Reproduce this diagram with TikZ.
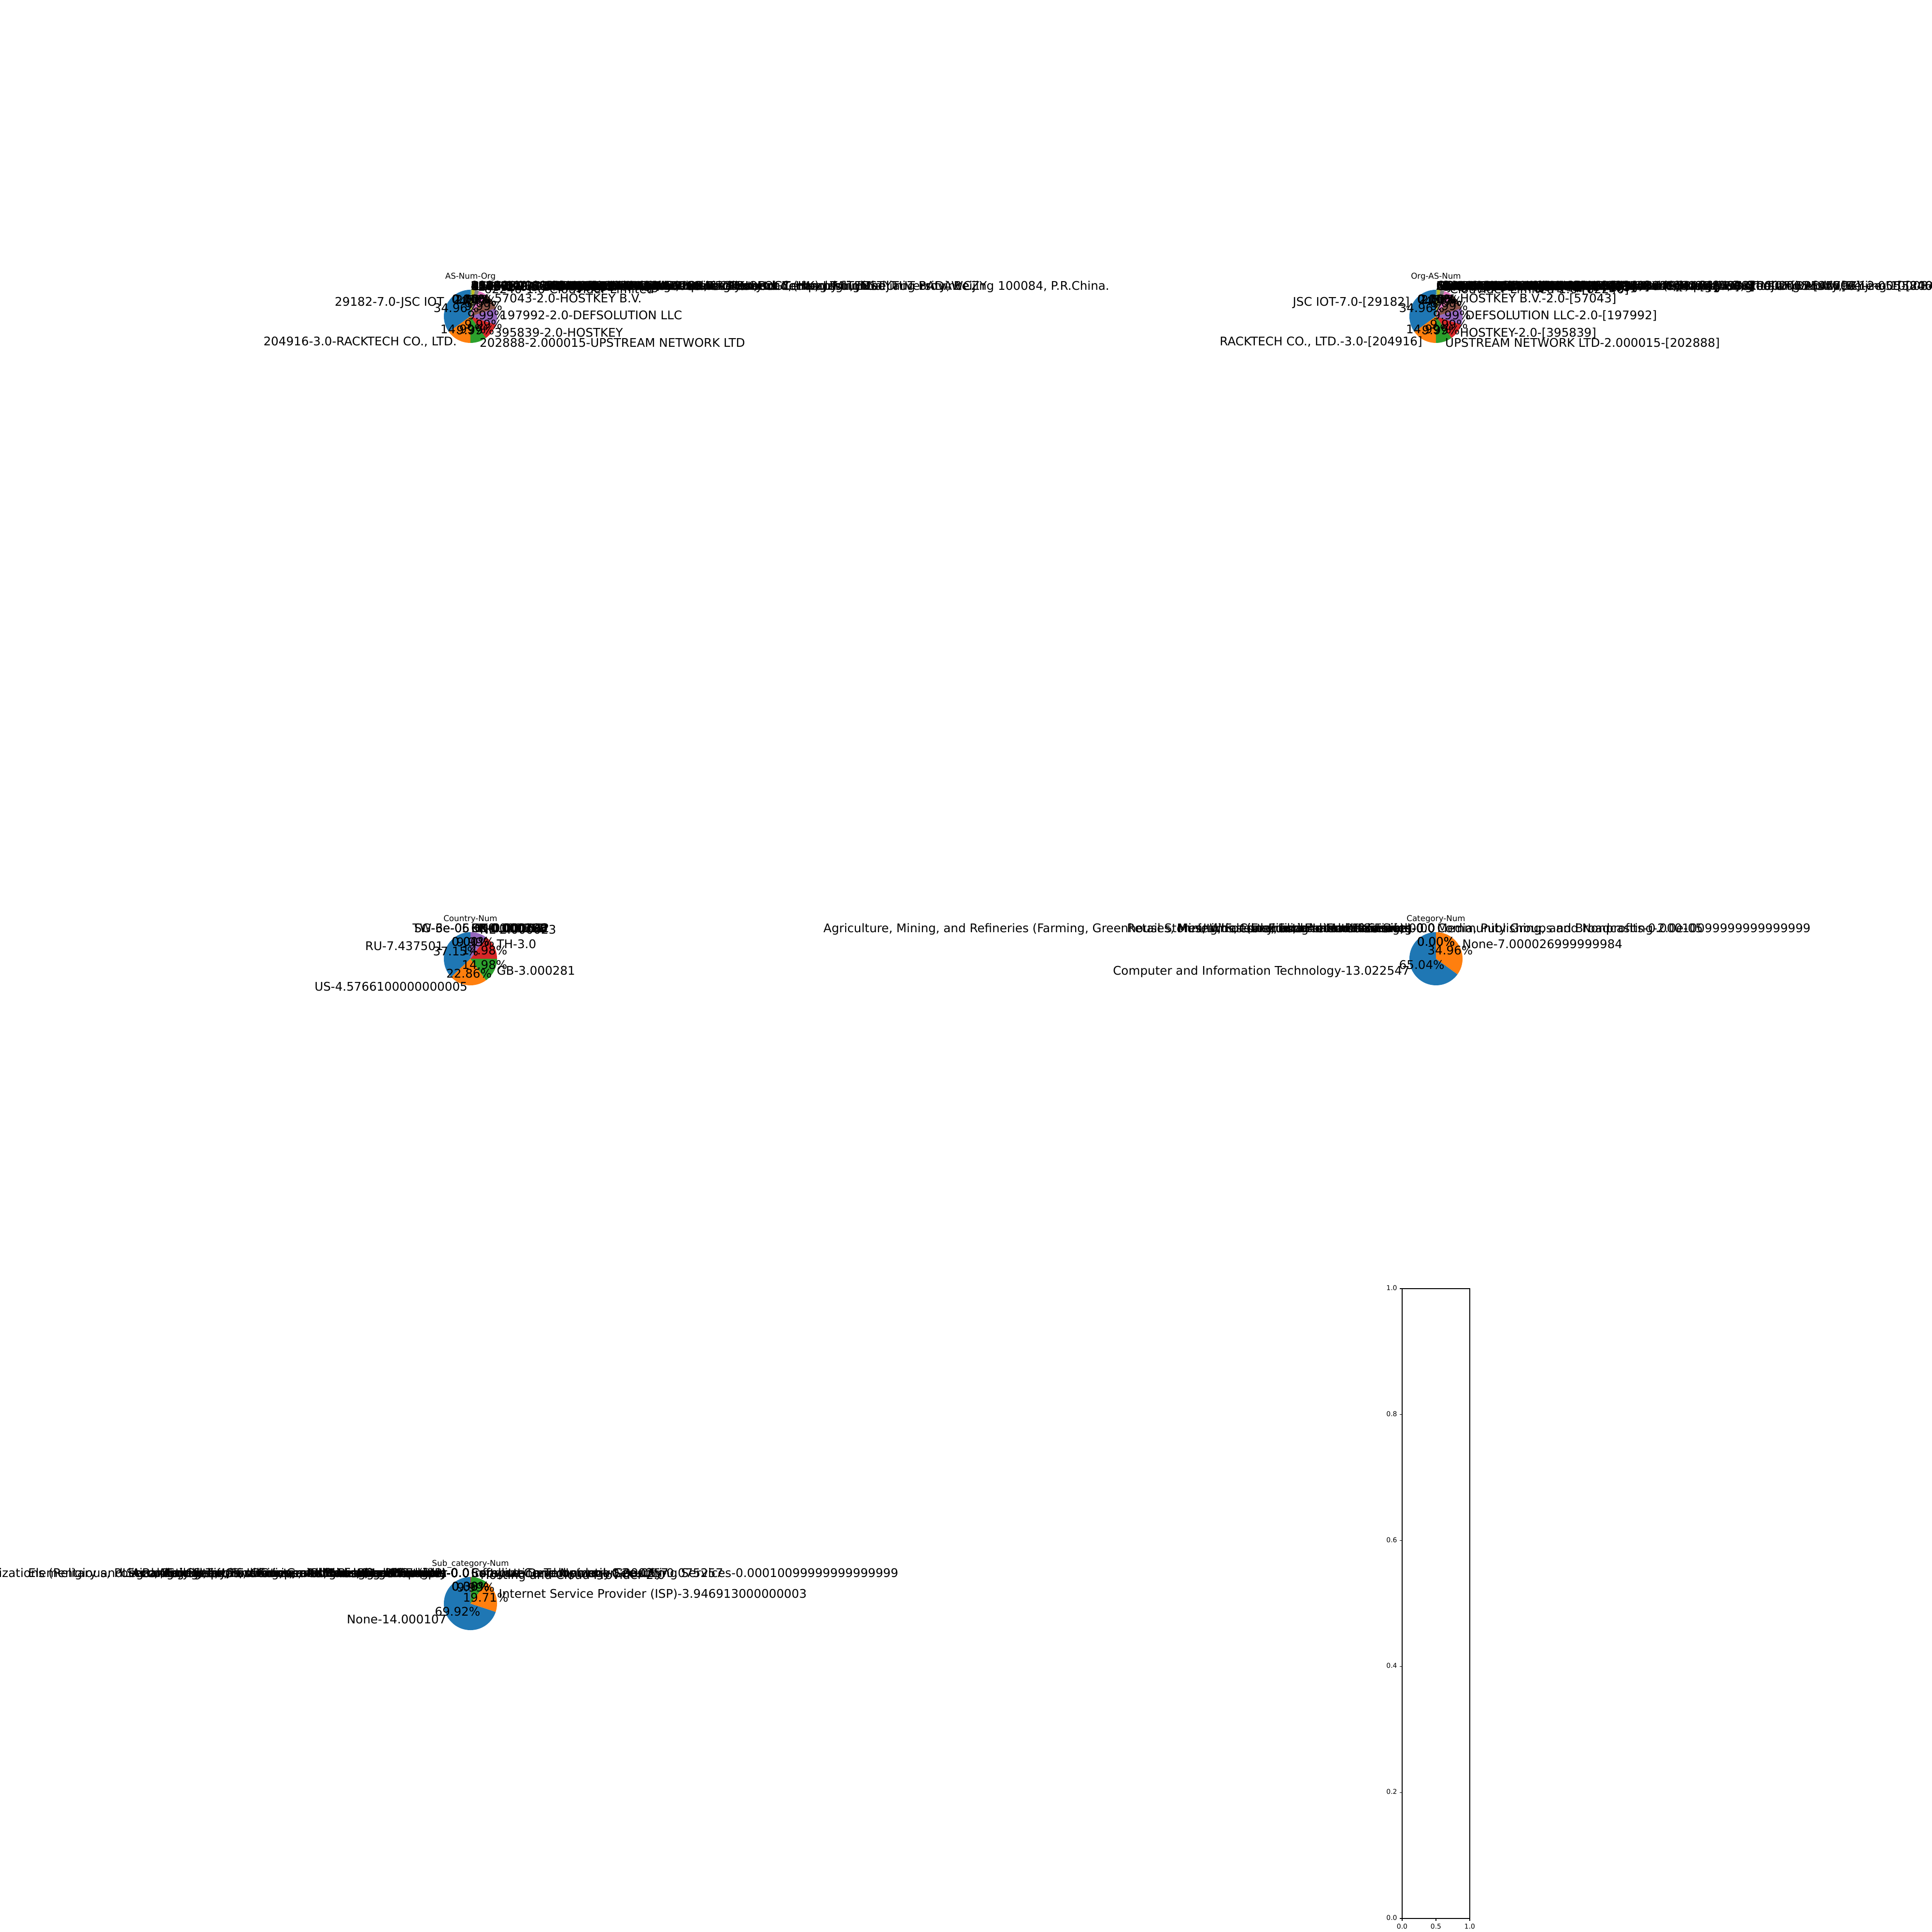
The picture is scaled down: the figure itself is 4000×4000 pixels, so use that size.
\documentclass[tikz,border=0pt]{standalone}
\usepackage{fontspec}
\setmainfont{DejaVu Sans}
\definecolor{tabblue}{HTML}{1F77B4}
\definecolor{taborange}{HTML}{FF7F0E}
\definecolor{tabgreen}{HTML}{2CA02C}
\definecolor{tabred}{HTML}{D62728}
\definecolor{tabpurple}{HTML}{9467BD}
\definecolor{tabbrown}{HTML}{8C564B}
\definecolor{tabpink}{HTML}{E377C2}
\definecolor{tabgray}{HTML}{7F7F7F}
\definecolor{tabolive}{HTML}{BCBD22}
\definecolor{tabcyan}{HTML}{17BECF}
\newcommand\pieslice[4]{\fill[#4] (#1) -- ++(#2:0.55cm) arc[start angle=#2,end angle=#3,radius=0.55cm] -- cycle;}
\begin{document}
\begin{tikzpicture}[x=0.01cm,y=0.01cm,
  lab/.style={inner sep=0pt,text height=5.32pt,text depth=1.68pt,font=\fontsize{7}{8.4}\selectfont},
  ttl/.style={inner sep=0pt,anchor=base,font=\fontsize{4.75}{5.7}\selectfont},
  ticklab/.style={inner sep=0pt,text height=3.0pt,text depth=0.95pt,font=\fontsize{3.95}{4.74}\selectfont},
  axline/.style={line width=0.316pt,line cap=rect}]
\useasboundingbox (0,0) rectangle (4000,4000);
\fill[white] (0,0) rectangle (4000,4000);

% ================= Pie A : AS-Num-Org =================
\coordinate (cA) at (974,3345);
\pieslice{cA}{90}{215.86}{tabblue}
\pieslice{cA}{215.86}{269.82}{taborange}
\pieslice{cA}{269.82}{305.78}{tabgreen}
\pieslice{cA}{305.78}{341.74}{tabred}
\pieslice{cA}{341.74}{377.70}{tabpurple}
\pieslice{cA}{377.70}{413.66}{tabbrown}
\pieslice{cA}{413.66}{431.64}{tabpink}
\pieslice{cA}{431.64}{440.63}{tabgray}
\pieslice{cA}{440.63}{447.83}{tabolive}
\pieslice{cA}{447.83}{448.5}{tabcyan}
\pieslice{cA}{448.5}{449.0}{tabblue}
\pieslice{cA}{449.0}{449.5}{taborange}
\pieslice{cA}{449.5}{450}{tabgreen}
\node[ttl] (tA) at (974,3422.3) {AS-Num-Org};
\node[lab,anchor=east] (a1) at (920.1,3372.5) {29182-7.0-JSC IOT};
\node[lab,anchor=east] (a2) at (946.4,3291.2) {204916-3.0-RACKTECH CO., LTD.};
\node[lab,anchor=west] (a3) at (992.5,3287.4) {202888-2.000015-UPSTREAM NETWORK LTD};
\node[lab,anchor=west] (a4) at (1022.8,3309.2) {395839-2.0-HOSTKEY};
\node[lab,anchor=west] (a5) at (1034.5,3344.7) {197992-2.0-DEFSOLUTION LLC};
\node[lab,anchor=west] (a6) at (1023.1,3380.3) {57043-2.0-HOSTKEY B.V.};
\node[lab,anchor=west] (a7) at (1001.8,3398.7) {62240-1.0-Clouvider Limited};
\node[lab,anchor=west] (a8) at (988.5,3403.7) {14061-0.5-DIGITALOCEAN-ASN};
\node[lab,anchor=west] (a9) at (980.1,3405.2) {16276-0.404-OVH SAS};
\node[lab,anchor=west] (a10) at (975.9,3405.5) {4134-0.038-Chinanet};
\node[lab,anchor=west] (a11) at (975.3,3405.5) {24940-0.02-Hetzner Online GmbH};
\node[lab,anchor=west] (a12) at (974.8,3405.5) {12876-0.01-SCALEWAY S.A.S.};
\node[lab,anchor=west] (a13) at (974.6,3405.5) {9009-0.01-M247 Europe SRL};
\node[lab,anchor=west] (a14) at (974.5,3405.5) {45090-0.005-Shenzhen Tencent Computer Systems Company Limited};
\node[lab,anchor=west] (a15) at (974.4,3405.5) {37963-0.003-Hangzhou Alibaba Advertising Co.,Ltd.};
\node[lab,anchor=west] (a16) at (974.3,3405.5) {8075-0.001-MICROSOFT-CORP-MSN-AS-BLOCK};
\node[lab,anchor=west] (a17) at (974.25,3405.5) {63949-0.002-Akamai Technologies, Inc.};
\node[lab,anchor=west] (a18) at (974.2,3405.5) {15169-0.0001-GOOGLE};
\node[lab,anchor=west] (a19) at (974.18,3405.5) {36352-0.0004-AS-COLOCROSSING};
\node[lab,anchor=west] (a20) at (974.15,3405.5) {209588-0.0001-Flyservers S.A.};
\node[lab,anchor=west] (a21) at (974.13,3405.5) {135377-0.0002-UCLOUD INFORMATION TECHNOLOGY (HK) LIMITED};
\node[lab,anchor=west] (a22) at (974.1,3405.5) {4808-5e-05-China Unicom Beijing Province Network};
\node[lab,anchor=west] (a23) at (974.08,3405.5) {4837-0.0001-CHINA UNICOM China169 Backbone};
\node[lab,anchor=west] (a24) at (974.06,3405.5) {58461-1e-05-CT-HangZhou-IDC No.288,Fu-chun Road, Hangzhou, Zhejiang Province};
\node[lab,anchor=west] (a25) at (974.05,3405.5) {200000-2e-05-Siec Badawcza Lukasiewicz - Instytut Technologii, INSTYTUT BADAWCZY};
\node[lab,anchor=west] (a26) at (974.02,3405.5) {4538-1e-05-China Education and Research Network Center, Tsinghua University, Beijing 100084, P.R.China.};
\node[lab] (ap1) at (944.6,3360) {34.96\%};
\node[lab] (ap2) at (958.9,3315.6) {14.99\%};
\node[lab] (ap3) at (984.1,3313.6) {9.99\%};
\node[lab] (ap4) at (1000.6,3325.5) {9.99\%};
\node[lab] (ap5) at (1007,3344.8) {9.99\%};
\node[lab] (ap6) at (1000.8,3364.2) {9.99\%};
\node[lab] (ap7) at (989.2,3374.3) {4.99\%};
\node[lab] (ap8) at (981.9,3377) {2.50\%};
\node[lab] (ap9) at (977.3,3377.8) {2.00\%};
\node[lab] (ap10) at (975.2,3378) {0.19\%};
\node[lab] (ap11) at (974.6,3378) {0.10\%};
\node[lab] (ap12) at (974.3,3378) {0.05\%};
\node[lab] (ap13) at (974.1,3378) {0.00\%};

% ================= Pie B : Org-AS-Num =================
\coordinate (cB) at (2973,3345);
\pieslice{cB}{90}{215.86}{tabblue}
\pieslice{cB}{215.86}{269.82}{taborange}
\pieslice{cB}{269.82}{305.78}{tabgreen}
\pieslice{cB}{305.78}{341.74}{tabred}
\pieslice{cB}{341.74}{377.70}{tabpurple}
\pieslice{cB}{377.70}{413.66}{tabbrown}
\pieslice{cB}{413.66}{431.64}{tabpink}
\pieslice{cB}{431.64}{440.63}{tabgray}
\pieslice{cB}{440.63}{447.83}{tabolive}
\pieslice{cB}{447.83}{448.5}{tabcyan}
\pieslice{cB}{448.5}{449.0}{tabblue}
\pieslice{cB}{449.0}{449.5}{taborange}
\pieslice{cB}{449.5}{450}{tabgreen}
\node[ttl] (tB) at (2973,3422.3) {Org-AS-Num};
\node[lab,anchor=east] (b1) at (2919.1,3372.5) {JSC IOT-7.0-[29182]};
\node[lab,anchor=east] (b2) at (2945.4,3291.2) {RACKTECH CO., LTD.-3.0-[204916]};
\node[lab,anchor=west] (b3) at (2991.5,3287.4) {UPSTREAM NETWORK LTD-2.000015-[202888]};
\node[lab,anchor=west] (b4) at (3021.8,3309.2) {HOSTKEY-2.0-[395839]};
\node[lab,anchor=west] (b5) at (3033.5,3344.7) {DEFSOLUTION LLC-2.0-[197992]};
\node[lab,anchor=west] (b6) at (3022.1,3380.3) {HOSTKEY B.V.-2.0-[57043]};
\node[lab,anchor=west] (b7) at (3000.8,3398.7) {Clouvider Limited-1.0-[62240]};
\node[lab,anchor=west] (b8) at (2987.5,3403.7) {DIGITALOCEAN-ASN-0.5-[14061]};
\node[lab,anchor=west] (b9) at (2979.1,3405.2) {OVH SAS-0.404-[16276]};
\node[lab,anchor=west] (b10) at (2974.9,3405.5) {Chinanet-0.038-[4134]};
\node[lab,anchor=west] (b11) at (2974.3,3405.5) {Hetzner Online GmbH-0.02-[24940]};
\node[lab,anchor=west] (b12) at (2973.8,3405.5) {SCALEWAY S.A.S.-0.01-[12876]};
\node[lab,anchor=west] (b13) at (2973.6,3405.5) {M247 Europe SRL-0.01-[9009]};
\node[lab,anchor=west] (b14) at (2973.5,3405.5) {Shenzhen Tencent Computer Systems Company Limited-0.005-[45090]};
\node[lab,anchor=west] (b15) at (2973.4,3405.5) {Hangzhou Alibaba Advertising Co.,Ltd.-0.003-[37963]};
\node[lab,anchor=west] (b16) at (2973.3,3405.5) {MICROSOFT-CORP-MSN-AS-BLOCK-0.001-[8075]};
\node[lab,anchor=west] (b17) at (2973.25,3405.5) {Akamai Technologies, Inc.-0.002-[63949]};
\node[lab,anchor=west] (b18) at (2973.2,3405.5) {GOOGLE-0.0001-[15169]};
\node[lab,anchor=west] (b19) at (2973.18,3405.5) {AS-COLOCROSSING-0.0004-[36352]};
\node[lab,anchor=west] (b20) at (2973.15,3405.5) {Flyservers S.A.-0.0001-[209588]};
\node[lab,anchor=west] (b21) at (2973.13,3405.5) {UCLOUD INFORMATION TECHNOLOGY (HK) LIMITED-0.0002-[135377]};
\node[lab,anchor=west] (b22) at (2973.1,3405.5) {China Unicom Beijing Province Network-5e-05-[4808]};
\node[lab,anchor=west] (b23) at (2973.08,3405.5) {CHINA UNICOM China169 Backbone-0.0001-[4837]};
\node[lab,anchor=west] (b24) at (2973.06,3405.5) {CT-HangZhou-IDC No.288,Fu-chun Road, Hangzhou, Zhejiang Province-1e-05-[58461]};
\node[lab,anchor=west] (b25) at (2973.05,3405.5) {Siec Badawcza Lukasiewicz - Instytut Technologii, INSTYTUT BADAWCZY-2e-05-[200000]};
\node[lab,anchor=west] (b26) at (2973.02,3405.5) {China Education and Research Network Center, Tsinghua University, Beijing 100084, P.R.China.-1e-05-[4538]};
\node[lab] (bp1) at (2943.6,3360) {34.96\%};
\node[lab] (bp2) at (2957.9,3315.6) {14.99\%};
\node[lab] (bp3) at (2983.1,3313.6) {9.99\%};
\node[lab] (bp4) at (2999.6,3325.5) {9.99\%};
\node[lab] (bp5) at (3006,3344.8) {9.99\%};
\node[lab] (bp6) at (2999.8,3364.2) {9.99\%};
\node[lab] (bp7) at (2988.2,3374.3) {4.99\%};
\node[lab] (bp8) at (2980.9,3377) {2.50\%};
\node[lab] (bp9) at (2976.3,3377.8) {2.00\%};
\node[lab] (bp10) at (2974.2,3378) {0.19\%};
\node[lab] (bp11) at (2973.6,3378) {0.10\%};
\node[lab] (bp12) at (2973.3,3378) {0.05\%};
\node[lab] (bp13) at (2973.1,3378) {0.00\%};

% ================= Pie C : Country-Num =================
\coordinate (cC) at (974,2015);
\pieslice{cC}{90}{223.74}{tabblue}
\pieslice{cC}{223.74}{306.04}{taborange}
\pieslice{cC}{306.04}{359.97}{tabgreen}
\pieslice{cC}{359.97}{413.90}{tabred}
\pieslice{cC}{413.90}{449.86}{tabpurple}
\pieslice{cC}{449.86}{450}{tabbrown}
\node[ttl] (tC) at (974,2092.3) {Country-Num};
\node[lab,anchor=east] (c1) at (918.4,2038.8) {RU-7.437501};
\node[lab,anchor=east] (c2) at (968.6,1954.7) {US-4.5766100000000005};
\node[lab,anchor=west] (c3) at (1027.9,1987.5) {GB-3.000281};
\node[lab,anchor=west] (c4) at (1027.9,2042.4) {TH-3.0};
\node[lab,anchor=west] (c5) at (992.8,2072.5) {NL-2.000023};
\node[lab,anchor=east] (c6) at (973,2075.5) {TW-6e-05};
\node[lab,anchor=east] (c7) at (973,2075.5) {SG-3e-06};
\node[lab,anchor=west] (c8) at (975,2075.5) {KR-0.000123};
\node[lab,anchor=west] (c9) at (975,2075.5) {DE-0.000532};
\node[lab,anchor=west] (c10) at (975,2075.5) {CN-0.001062};
\node[lab,anchor=west] (c11) at (975,2075.5) {HK-0.000206};
\node[lab,anchor=west] (c12) at (975,2075.5) {FR-0.000358};
\node[lab,anchor=west] (c13) at (975,2075.5) {IN-0.000115};
\node[lab] (cp1) at (943.6,2028) {37.15\%};
\node[lab] (cp2) at (971.1,1982.1) {22.86\%};
\node[lab] (cp3) at (1003.4,2000) {14.98\%};
\node[lab] (cp4) at (1003.4,2030) {14.98\%};
\node[lab] (cp5) at (984.3,2046.4) {9.99\%};
\node[lab] (cp6) at (974,2048) {0.00\%};
\node[lab] (cp7) at (974.5,2048) {0.01\%};

% ================= Pie D : Category-Num =================
\coordinate (cD) at (2973,2015);
\pieslice{cD}{90}{324.14}{tabblue}
\pieslice{cD}{324.14}{450}{taborange}
\node[ttl] (tD) at (2973,2092.3) {Category-Num};
\node[lab,anchor=east] (d1) at (2919.1,1987.5) {Computer and Information Technology-13.022547};
\node[lab,anchor=west] (d2) at (3026.9,2042.5) {None-7.000026999999984};
\node[lab,anchor=east] (d3) at (2972,2075.5) {Agriculture, Mining, and Refineries (Farming, Greenhouses, Mining, Forestry, and Animal Farming)-0.00};
\node[lab,anchor=east] (d4) at (2972,2075.5) {Retail Stores, Wholesale, and E-commerce Sites-0.0};
\node[lab,anchor=east] (d5) at (2972,2075.5) {Construction and Real Estate-0.0};
\node[lab,anchor=east] (d6) at (2972,2075.5) {Manufacturing-0.0};
\node[lab,anchor=east] (d7) at (2972,2075.5) {Museums, Libraries, and Entertainment-0.0};
\node[lab,anchor=east] (d8) at (2972,2075.5) {Utilities (Excluding Internet Service)-0.0};
\node[lab,anchor=east] (d9) at (2972,2075.5) {Finance and Insurance-0.0};
\node[lab,anchor=east] (d10) at (2972,2075.5) {Education and Research-0.0};
\node[lab,anchor=east] (d11) at (2972,2075.5) {Service-0.0};
\node[lab,anchor=west] (d12) at (2975,2075.5) {Media, Publishing, and Broadcasting-2.0e-05};
\node[lab,anchor=west] (d13) at (2975,2075.5) {Community Groups and Nonprofits-0.00010099999999999999};
\node[lab] (dp1) at (2943.6,2000) {65.04\%};
\node[lab] (dp2) at (3002.4,2030) {34.96\%};
\node[lab] (dp3) at (2973,2048) {0.00\%};
\node[lab] (dp4) at (2973.3,2048) {0.00\%};

% ================= Pie E : Sub_category-Num =================
\coordinate (cE) at (974,680);
\pieslice{cE}{90}{341.71}{tabblue}
\pieslice{cE}{341.71}{412.67}{taborange}
\pieslice{cE}{412.67}{448.63}{tabgreen}
\pieslice{cE}{448.63}{449.98}{tabred}
\pieslice{cE}{449.98}{450}{tabpurple}
\node[ttl] (tE) at (974,757.3) {Sub\_category-Num};
\node[lab,anchor=east] (e1) at (925,644.6) {None-14.000107};
\node[lab,anchor=west] (e2) at (1031.8,697.9) {Internet Service Provider (ISP)-3.946913000000003};
\node[lab,anchor=west] (e3) at (994,737.1) {Hosting and Cloud Provider-2.0};
\node[lab,anchor=west] (e4) at (974.7,740.5) {Computer and Network Security-0.075257};
\node[lab,anchor=west] (e5) at (975,740.5) {Information Technology Consulting Services-0.00010099999999999999};
\node[lab,anchor=west] (e6) at (975,740.5) {Satellite Communication-2e-05};
\node[lab,anchor=west] (e6b) at (975,740.5) {Software Development-0.000257};
\node[lab,anchor=east] (e7) at (973,740.5) {Advocacy Organizations (Religious, Political, Social, and Environmental Causes and Groups)-0.0};
\node[lab,anchor=east] (e8) at (973,740.5) {Legal, Regulatory, and Government Relations Services-0.0};
\node[lab,anchor=east] (e9) at (973,740.5) {Phone Provider-0.0};
\node[lab,anchor=east] (e10) at (973,740.5) {Search Engine-0.0};
\node[lab,anchor=east] (e11) at (973,740.5) {Internet Exchange Point (IXP)-0.0};
\node[lab,anchor=east] (e12) at (973,740.5) {Software Development-0.0};
\node[lab,anchor=east] (e13) at (973,740.5) {Religious Organizations-0.0};
\node[lab,anchor=east] (e14) at (973,740.5) {Colleges, Universities, and Professional Schools-0.0};
\node[lab,anchor=east] (e15) at (973,740.5) {Banks, Credit Card Companies, Mortgage Providers-0.0};
\node[lab,anchor=east] (e16) at (973,740.5) {Elementary and Secondary Schools, Libraries, Archives, and Museums-0.0};
\node[lab,anchor=east] (e17) at (973,740.5) {Accounting, Tax, Insurance, and Investment Services-0.0};
\node[lab,anchor=east] (e18) at (973,740.5) {Agriculture, Farming, Greenhouses, and Forestry-0.0};
\node[lab,anchor=east] (e19) at (973,740.5) {Hospitals, Clinics, and Medical Laboratories-0.0};
\node[lab] (ep1) at (947.3,660.7) {69.92\%};
\node[lab] (ep2) at (1005.5,689.8) {19.71\%};
\node[lab] (ep3) at (984.9,711.1) {9.99\%};
\node[lab] (ep4) at (974.4,713) {0.38\%};
\node[lab] (ep5) at (974,713) {0.00\%};

% ================= Empty axes =================
\draw[axline] (2903,28) rectangle (3043,1332);
\foreach \v/\yy/\i in {0.0/28/0,0.2/288.8/1,0.4/549.6/2,0.6/810.4/3,0.8/1071.2/4,1.0/1332/5}{
  \draw[axline] (2903,\yy) -- (2898.1,\yy);
  \node[ticklab,anchor=east] (yt\i) at (2893.2,\yy) {\v};
}
\foreach \v/\xx/\i in {0.0/2903/0,0.5/2973/1,1.0/3043/2}{
  \draw[axline] (\xx,28) -- (\xx,23.1);
  \node[ticklab,anchor=north] (xt\i) at (\xx,18.2) {\v};
}
\end{tikzpicture}
\end{document}
